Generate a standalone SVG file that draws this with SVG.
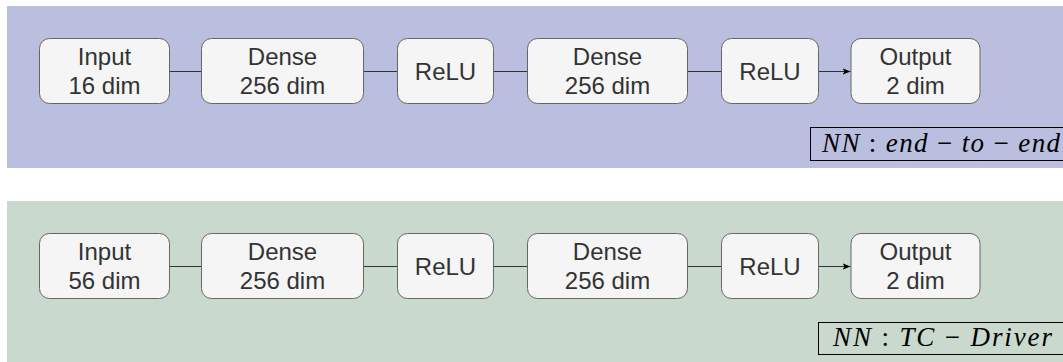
<svg xmlns="http://www.w3.org/2000/svg" width="1063" height="362" viewBox="0 0 1063 362">
<style>
.box{fill:#f5f5f5;stroke:#666666;stroke-width:1}
.t{font-family:"Liberation Sans",Arial,sans-serif;font-size:24px;fill:#333333;text-anchor:middle}
.c{stroke:#333333;stroke-width:1;fill:none}
.lbl{fill:none;stroke:#000000;stroke-width:1}
.m{font-family:"Liberation Serif","DejaVu Serif",serif;font-size:27px;fill:#000000}
.i{font-style:italic}
</style>
<defs>
<marker id="arr" viewBox="0 0 10 10" refX="10" refY="5" markerWidth="8" markerHeight="8" markerUnits="userSpaceOnUse" orient="auto">
<path d="M0,1 L10,5 L0,9 L2.5,5 Z" fill="#000000"/>
</marker>
</defs>
<g id="panel-top">
<rect x="7" y="6" width="1056" height="162" fill="#bbbfdf"/>
</g>
<g id="panel-bottom">
<rect x="7" y="201" width="1056" height="161" fill="#c9d9cd"/>
</g>
<g id="connectors">
<line class="c" x1="169.5" y1="71.5" x2="201.5" y2="71.5"/>
<line class="c" x1="363.5" y1="71.5" x2="397.5" y2="71.5"/>
<line class="c" x1="493.5" y1="71.5" x2="527.5" y2="71.5"/>
<line class="c" x1="687.5" y1="71.5" x2="721.5" y2="71.5"/>
<line class="c" x1="818.5" y1="71.5" x2="850.5" y2="71.5" marker-end="url(#arr)"/>
<line class="c" x1="169.5" y1="266.5" x2="201.5" y2="266.5"/>
<line class="c" x1="363.5" y1="266.5" x2="397.5" y2="266.5"/>
<line class="c" x1="493.5" y1="266.5" x2="527.5" y2="266.5"/>
<line class="c" x1="687.5" y1="266.5" x2="721.5" y2="266.5"/>
<line class="c" x1="818.5" y1="266.5" x2="850.5" y2="266.5" marker-end="url(#arr)"/>
</g>
<g id="t-input">
<rect class="box" x="39.5" y="38.5" width="130" height="65" rx="10"/>
<text class="t" x="104.5" y="65">Input</text>
<text class="t" x="104.5" y="94">16 dim</text>
</g>
<g id="t-dense1">
<rect class="box" x="201.5" y="38.5" width="162" height="65" rx="10"/>
<text class="t" x="282.5" y="65">Dense</text>
<text class="t" x="282.5" y="94">256 dim</text>
</g>
<g id="t-relu1">
<rect class="box" x="397.5" y="38.5" width="96" height="65" rx="10"/>
<text class="t" x="445.5" y="80">ReLU</text>
</g>
<g id="t-dense2">
<rect class="box" x="527.5" y="38.5" width="160" height="65" rx="10"/>
<text class="t" x="607.5" y="65">Dense</text>
<text class="t" x="607.5" y="94">256 dim</text>
</g>
<g id="t-relu2">
<rect class="box" x="721.5" y="38.5" width="97" height="65" rx="10"/>
<text class="t" x="770" y="80">ReLU</text>
</g>
<g id="t-output">
<rect class="box" x="851" y="38.5" width="129" height="65" rx="10"/>
<text class="t" x="915.5" y="65">Output</text>
<text class="t" x="915.5" y="94">2 dim</text>
</g>
<g id="t-label">
<rect class="lbl" x="810.5" y="127.5" width="260" height="33"/>
<text class="m" x="822" y="152" textLength="238" lengthAdjust="spacing"><tspan class="i">NN</tspan> : <tspan class="i">end</tspan> − <tspan class="i">to</tspan> − <tspan class="i">end</tspan></text>
</g>
<g id="b-input">
<rect class="box" x="39.5" y="233.5" width="130" height="65" rx="10"/>
<text class="t" x="104.5" y="260">Input</text>
<text class="t" x="104.5" y="289">56 dim</text>
</g>
<g id="b-dense1">
<rect class="box" x="201.5" y="233.5" width="162" height="65" rx="10"/>
<text class="t" x="282.5" y="260">Dense</text>
<text class="t" x="282.5" y="289">256 dim</text>
</g>
<g id="b-relu1">
<rect class="box" x="397.5" y="233.5" width="96" height="65" rx="10"/>
<text class="t" x="445.5" y="275">ReLU</text>
</g>
<g id="b-dense2">
<rect class="box" x="527.5" y="233.5" width="160" height="65" rx="10"/>
<text class="t" x="607.5" y="260">Dense</text>
<text class="t" x="607.5" y="289">256 dim</text>
</g>
<g id="b-relu2">
<rect class="box" x="721.5" y="233.5" width="97" height="65" rx="10"/>
<text class="t" x="770" y="275">ReLU</text>
</g>
<g id="b-output">
<rect class="box" x="851" y="233.5" width="129" height="65" rx="10"/>
<text class="t" x="915.5" y="260">Output</text>
<text class="t" x="915.5" y="289">2 dim</text>
</g>
<g id="b-label">
<rect class="lbl" x="818.5" y="322.5" width="260" height="32"/>
<text class="m" x="833" y="346" textLength="219" lengthAdjust="spacing"><tspan class="i">NN</tspan> : <tspan class="i">TC</tspan> − <tspan class="i">Driver</tspan></text>
</g>
</svg>
